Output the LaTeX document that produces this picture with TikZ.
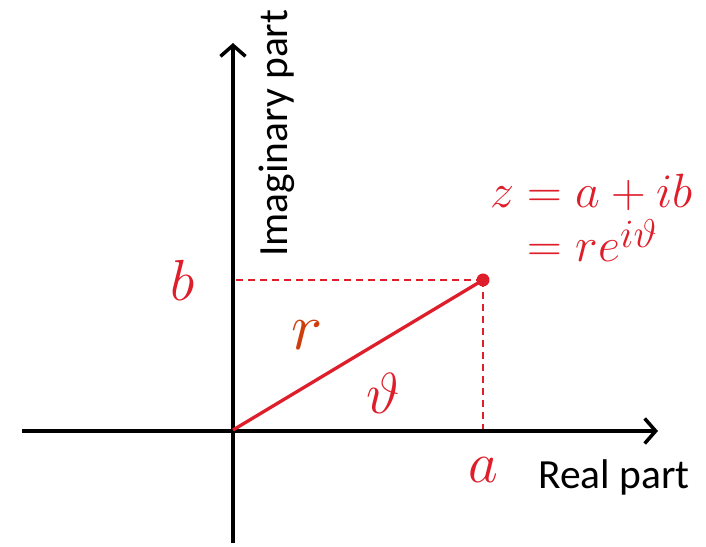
\documentclass[tikz,border=0pt]{standalone}
\usepackage{fontspec}
\newfontfamily\calibri{Carlito}
\usetikzlibrary{arrows.meta}
\definecolor{zred}{RGB}{222,30,42}
\definecolor{rorange}{RGB}{205,62,12}

\begin{document}
\begin{tikzpicture}[x=1pt, y=1pt,
  axis/.style={line width=3.5pt, -{Straight Barb[length=11pt, width=25pt]}},
  guide/.style={zred, line width=1.6pt, dash pattern=on 7pt off 5pt},
  mathlbl/.style={text=zred, inner sep=0pt, font=\Huge, scale=2.33},
  axlbl/.style={inner sep=0pt, font=\calibri\fontsize{41.5}{48}\selectfont}]
\useasboundingbox (0,0) rectangle (706,546);
% points of the plane
\coordinate (O) at (233,116);
\coordinate (P) at (483,266);
\coordinate (Pa) at (483,115);
\coordinate (Pb) at (233,266);
\coordinate (xleft) at (22,115);
\coordinate (xright) at (658,115);
\coordinate (ybot) at (233,3);
\coordinate (ytop) at (233,503);
% projections
\draw[guide] (P) -- (Pb);
\draw[guide] (P) -- (Pa);
% axes
\draw[axis] (ybot) -- (ytop);
\draw[axis] (xleft) -- (xright);
\node[axlbl, anchor=base west] (relbl) at (538,58) {Real part};
\node[axlbl, rotate=90, anchor=base west] (imlbl) at (287,289) {Imaginary part};
% the number z
\draw[zred, line width=3.3pt] (O) -- (P);
\fill[zred] (P) circle (6.5);
\node[mathlbl] (blbl) at (183,266) {$b$};
\node[mathlbl] (albl) at (483,76) {$a$};
\node[mathlbl, text=rorange, scale=1.15] (rlbl) at (307,211) {$r$};
\node[mathlbl] (thlbl) at (383,153) {$\vartheta$};
\node[mathlbl, scale=0.83, anchor=base west] (zlbl) at (490,338) {$z = a + ib$};
\node[mathlbl, scale=0.83, anchor=base west] (elbl) at (490,284)
  {$\hphantom{z}{}= re^{\raisebox{-0.15ex}{$\scriptstyle i\vartheta$}}$};
\end{tikzpicture}
\end{document}
